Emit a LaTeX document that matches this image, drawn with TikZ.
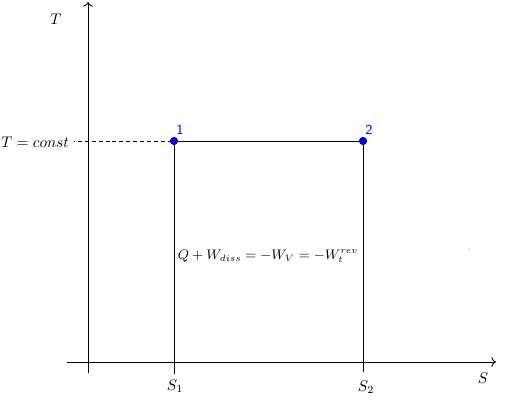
\documentclass[tikz,border=0pt]{standalone}
\usepackage{tikz}
\usetikzlibrary{arrows.meta, positioning, calc}
\usepackage{amsmath, amssymb}
\definecolor{ptblue}{RGB}{0, 0, 255}
\definecolor{ptedge}{RGB}{0, 0, 100}

\begin{document}
\begin{tikzpicture}[x=0.65pt, y=-0.65pt, line width=0.55pt]
  \useasboundingbox (0,0) rectangle (508,417);

  % Axes
  \coordinate (xl) at (67,362);
  \coordinate (xr) at (496,362);
  \coordinate (yb) at (88,373);
  \coordinate (yt) at (88,2);
  \draw[-{To[length=3pt]}] (xl) -- (xr);
  \draw[-{To[length=3pt]}] (yb) -- (yt);
  \node (labT) at (56,19) {$T$};
  \node (labS) at (483,378) {$S$};

  % States
  \coordinate (p1) at (174,141);
  \coordinate (p2) at (363,141);
  \coordinate (f1) at (174,374);
  \coordinate (f2) at (363,372);
  \node[anchor=east, inner sep=1pt] (const) at (71,142) {$T = const$};
  \coordinate (c0) at (74,141);
  \draw[dash pattern=on 2.6pt off 1.9pt, dash phase=2pt] (c0) -- (p1);
  \draw (p1) -- (p2);
  \draw (p1) -- (f1);
  \draw (p2) -- (f2);
  \fill[ptblue, draw=ptedge, line width=0.4pt] (p1) circle (2.4pt);
  \fill[ptblue, draw=ptedge, line width=0.4pt] (p2) circle (2.4pt);
  \node[ptblue, font=\sffamily\small, inner sep=0pt] (n1) at (180,130) {1};
  \node[ptblue, font=\sffamily\small, inner sep=0pt] (n2) at (369,130) {2};
  \node (labS1) at (175,386) {$S_1$};
  \node (labS2) at (366,387) {$S_2$};

  % Work
  \node[font=\small, inner sep=0pt] (eq) at (268,256) {$Q + W_{diss} = -W_V = -W_t^{rev}$};
  \fill[ptblue!15] (469,249) circle (0.8pt);
\end{tikzpicture}
\end{document}
